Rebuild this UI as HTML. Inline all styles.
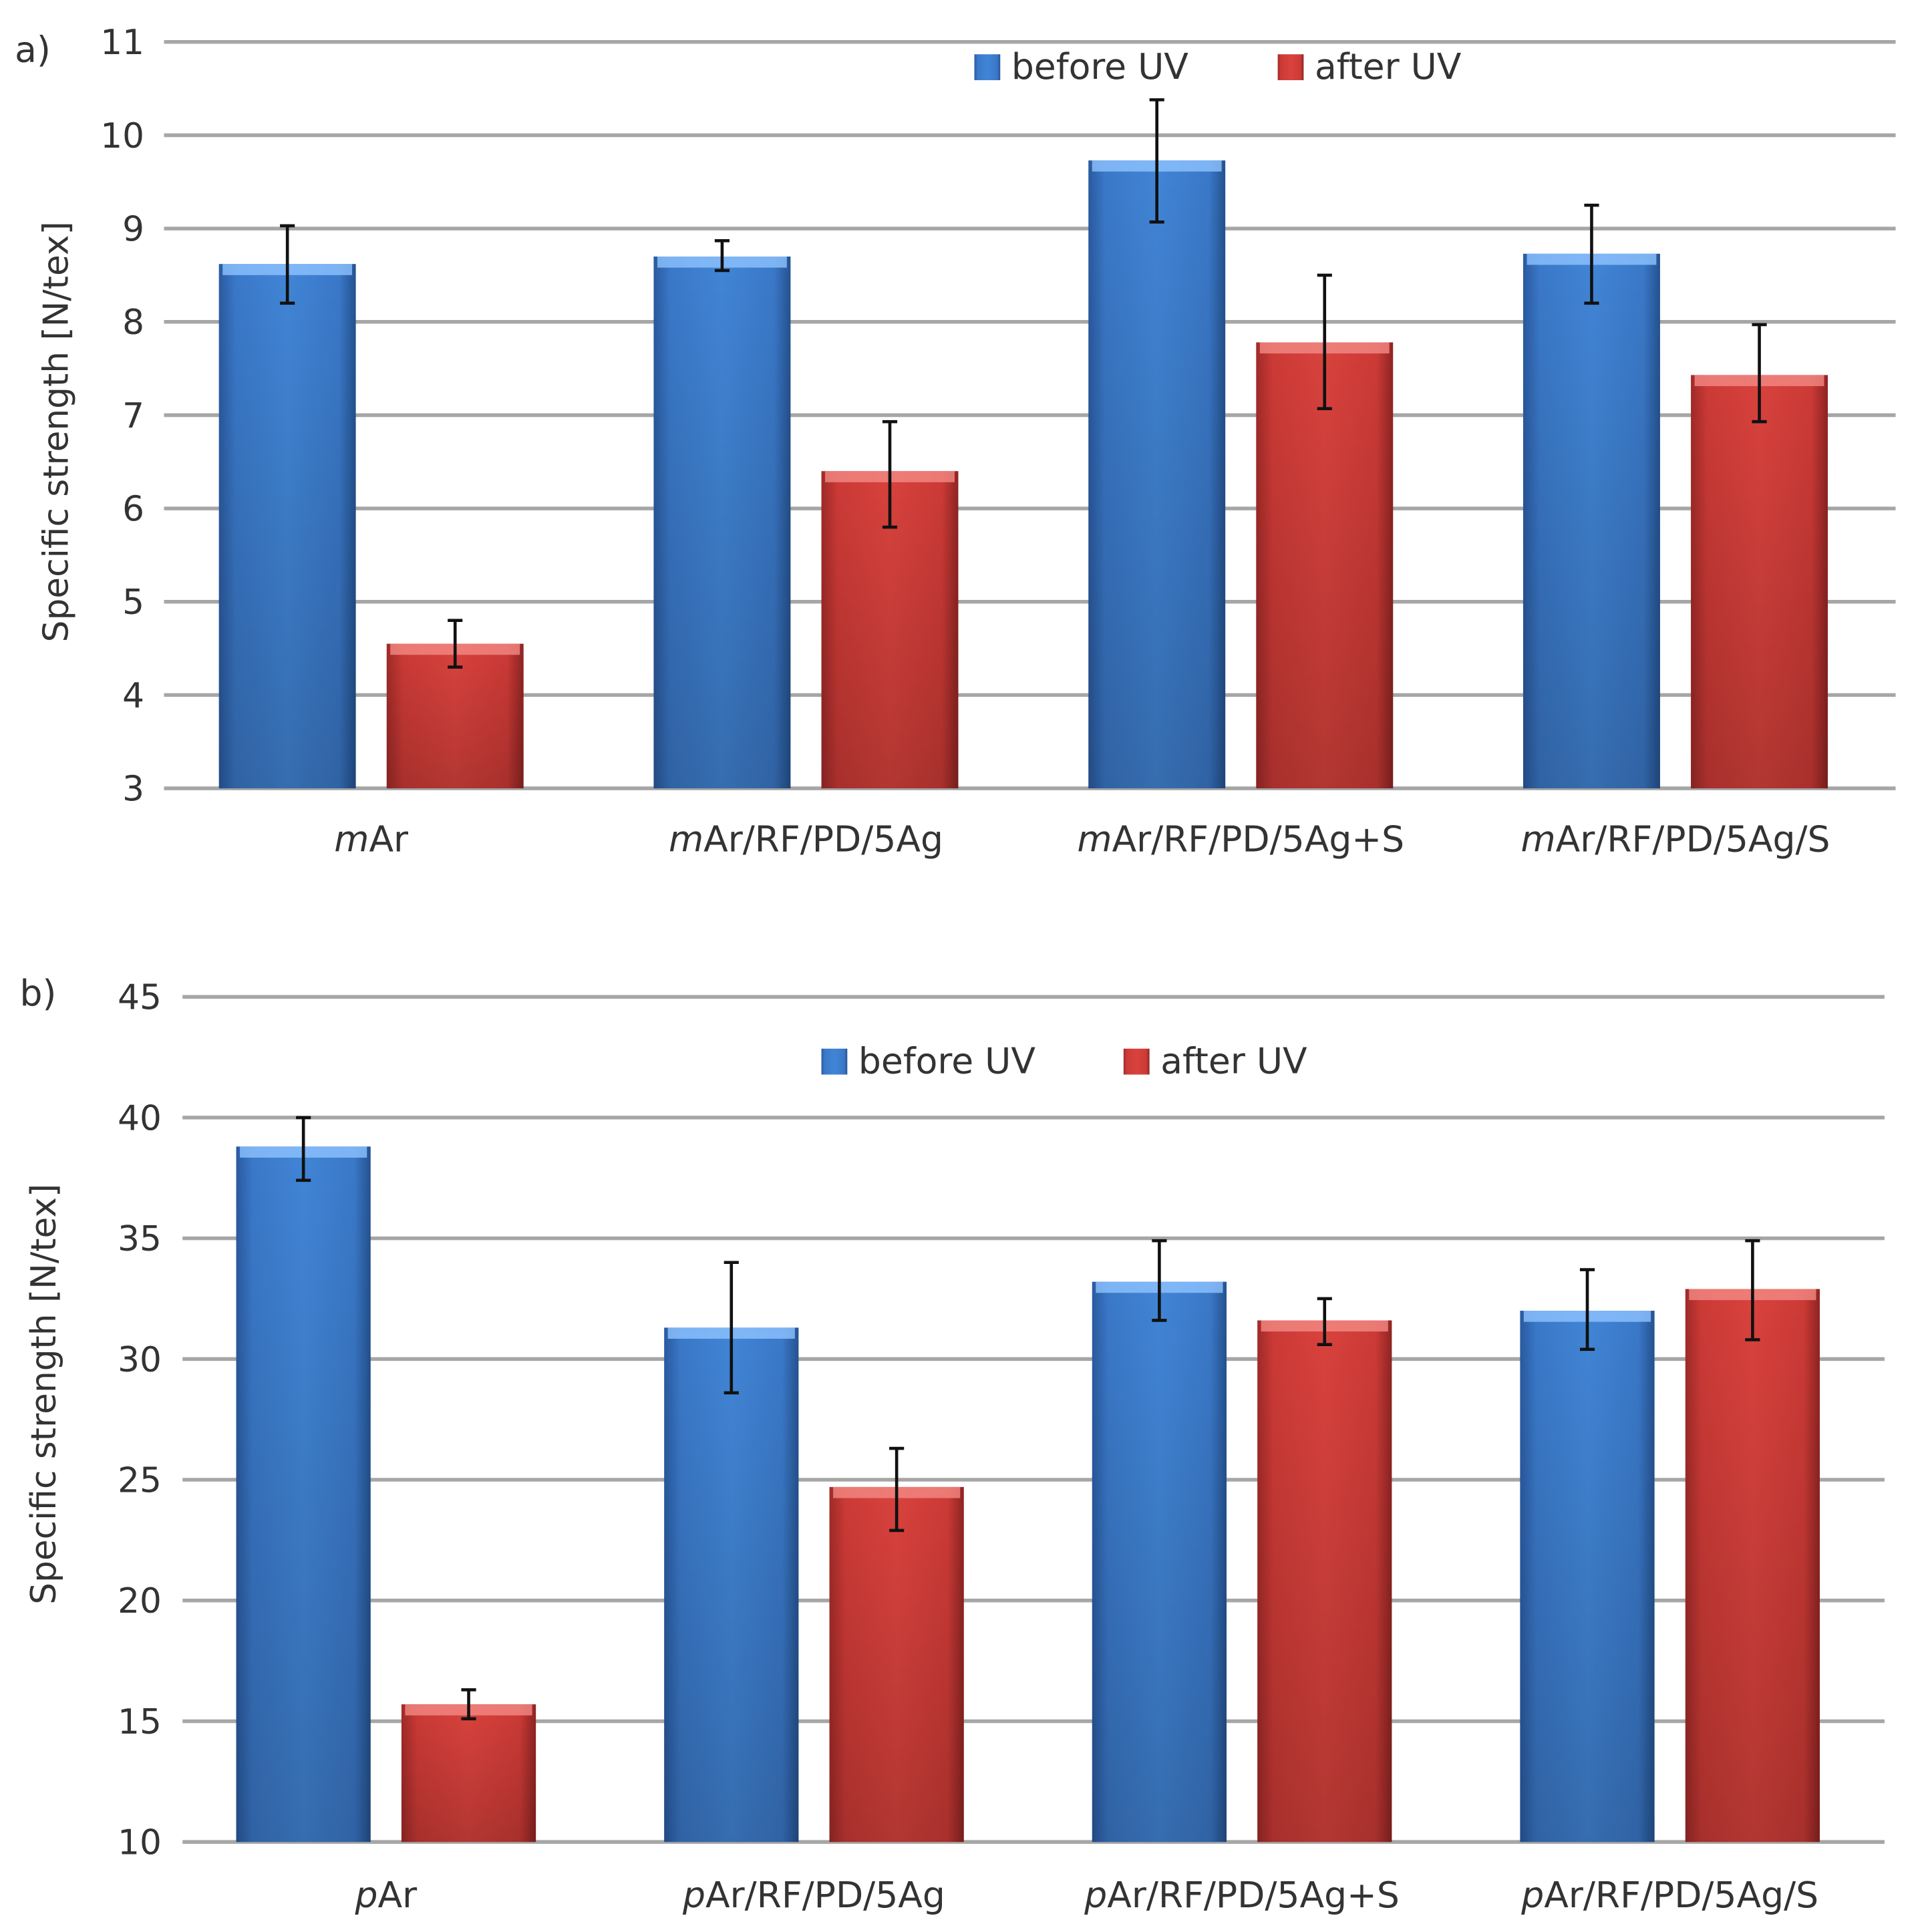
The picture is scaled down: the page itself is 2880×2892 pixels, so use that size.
<!DOCTYPE html>
<html><head><meta charset="utf-8"><style>
html,body{margin:0;padding:0;background:#fff}
svg{display:block}
text{font-family:"DejaVu Sans","Liberation Sans",sans-serif;fill:#333}
</style></head><body>
<svg id="svg" width="2880" height="2892" viewBox="0 0 1560 1566" preserveAspectRatio="none" xmlns="http://www.w3.org/2000/svg">
<defs>
<linearGradient id="gb" x1="0" x2="1" y1="0" y2="0"><stop offset="0" stop-color="#2a5aa0"/><stop offset="0.12" stop-color="#3a78c8"/><stop offset="0.5" stop-color="#4185d6"/><stop offset="0.88" stop-color="#3a78c8"/><stop offset="1" stop-color="#24528f"/></linearGradient>
<linearGradient id="gr" x1="0" x2="1" y1="0" y2="0"><stop offset="0" stop-color="#a02a28"/><stop offset="0.12" stop-color="#cc3a36"/><stop offset="0.5" stop-color="#d9423d"/><stop offset="0.88" stop-color="#cc3a36"/><stop offset="1" stop-color="#8e2422"/></linearGradient>
<linearGradient id="vb" x1="0" x2="0" y1="0" y2="1"><stop offset="0" stop-color="#000" stop-opacity="0"/><stop offset="1" stop-color="#000" stop-opacity="0.18"/></linearGradient>
</defs>
<g id="root"></g>
</svg>
<script>
const catsA = ["mAr","mAr/RF/PD/5Ag","mAr/RF/PD/5Ag+S","mAr/RF/PD/5Ag/S"];
const beforeA = [8.62, 8.7, 9.73, 8.73];
const afterA = [4.55, 6.4, 7.78, 7.43];
const beforeALo = [8.2, 8.55, 9.07, 8.2];
const beforeAHi = [9.03, 8.87, 10.38, 9.25];
const afterALo = [4.3, 5.8, 7.07, 6.93];
const afterAHi = [4.8, 6.93, 8.5, 7.97];
const ticksA = [3,4,5,6,7,8,9,10,11];

const catsB = ["pAr","pAr/RF/PD/5Ag","pAr/RF/PD/5Ag+S","pAr/RF/PD/5Ag/S"];
const beforeB = [38.8, 31.3, 33.2, 32.0];
const afterB = [15.7, 24.7, 31.6, 32.9];
const beforeBLo = [37.4, 28.6, 31.6, 30.4];
const beforeBHi = [40.0, 34.0, 34.9, 33.7];
const afterBLo = [15.1, 22.9, 30.6, 30.8];
const afterBHi = [16.3, 26.3, 32.5, 34.9];
const ticksB = [10,15,20,25,30,35,40,45];

const NS="http://www.w3.org/2000/svg";
const root=document.getElementById('root');
function mk(tag,attrs,parent,txt){const e=document.createElementNS(NS,tag);for(const k in attrs)e.setAttribute(k,attrs[k]);if(txt!==undefined)e.textContent=txt;(parent||root).appendChild(e);return e;}

function chart(cfg){
  const g=mk('g',{});
  
  
  const y=v=>cfg.y0+(v-cfg.vmin)/(cfg.vmax-cfg.vmin)*(cfg.y1-cfg.y0);
  cfg.ticks.forEach(t=>{
    const l=mk('line',{x1:cfg.gx0,x2:cfg.gx1,y1:y(t),y2:y(t),stroke:'#a6a6a6','stroke-width':3},g);
    
    
    const tx=mk('text',{x:cfg.tickX,y:y(t)+10,'text-anchor':'end','font-size':28},g,String(t));
    
    
  });
  const w=cfg.barW;
  cfg.cats.forEach((c,i)=>{
    const cx=cfg.c0+i*cfg.step;
    [[cfg.before,cfg.bLo,cfg.bHi,'gb',cx-cfg.off,'#8fc3ff','bar-before-uv'],[cfg.after,cfg.aLo,cfg.aHi,'gr',cx+cfg.off,'#f38a85','bar-after-uv']].forEach(s=>{
      const v=s[0][i],bx=s[4];
      const top=y(v),bot=y(cfg.vmin);
      const r=mk('rect',{x:bx-w/2,y:top,width:w,height:bot-top,fill:'url(#'+s[3]+')'},g);
      
      
      mk('rect',{x:bx-w/2,y:top,width:w,height:bot-top,fill:'url(#vb)'},g);
      mk('rect',{x:bx-w/2+3,y:top,width:w-6,height:9,fill:s[5],opacity:0.8},g);
      const lo=y(s[1][i]),hi=y(s[2][i]);
      const e=mk('path',{d:`M${bx} ${lo}V${hi}M${bx-6} ${lo}H${bx+6}M${bx-6} ${hi}H${bx+6}`,stroke:'#111','stroke-width':2.5,fill:'none'},g);
      
      
    });
    const lab=mk('text',{x:cx,y:cfg.labY,'text-anchor':'middle','font-size':29,'font-family':'Liberation Sans, sans-serif'},g);
    
    
    mk('tspan',{'font-style':'italic'},lab,c[0]);
    mk('tspan',{},lab,c.slice(1));
  });
  const yl=mk('text',{x:cfg.ylx,y:cfg.yly,'text-anchor':'middle','font-size':28,transform:`rotate(-90 ${cfg.ylx} ${cfg.yly})`},g,'Specific strength [N/tex]');
  
  
  const pl=mk('text',{x:cfg.plx,y:cfg.ply,'font-size':29},g,cfg.panel);
  
  
  [[cfg.lg[0],'gb','before UV'],[cfg.lg[1],'gr','after UV']].forEach(L=>{
    const lg=mk('g',{},g);
    
    
    mk('rect',{x:L[0],y:cfg.lgy-10,width:21,height:21,fill:'url(#'+L[1]+')'},lg);
    mk('text',{x:L[0]+30,y:cfg.lgy+10,'font-size':29},lg,L[2]);
  });
}
chart({name:'chart-a',cats:catsA,before:beforeA,after:afterA,bLo:beforeALo,bHi:beforeAHi,aLo:afterALo,aHi:afterAHi,ticks:ticksA,
  vmin:3,vmax:11,y0:639,y1:34,gx0:133,gx1:1537,tickX:117,c0:301,step:352.5,off:68,barW:111,labY:690,ylx:55,yly:350,panel:'a)',plx:12,ply:50,lg:[790,1036],lgy:54});
chart({name:'chart-b',cats:catsB,before:beforeB,after:afterB,bLo:beforeBLo,bHi:beforeBHi,aLo:afterBLo,aHi:afterBHi,ticks:ticksB,
  vmin:10,vmax:45,y0:1493,y1:808,gx0:148,gx1:1528,tickX:131,c0:313,step:347,off:67,barW:109,labY:1546,ylx:45,yly:1130,panel:'b)',plx:16,ply:815,lg:[666,911],lgy:860});
</script>
</body></html>
